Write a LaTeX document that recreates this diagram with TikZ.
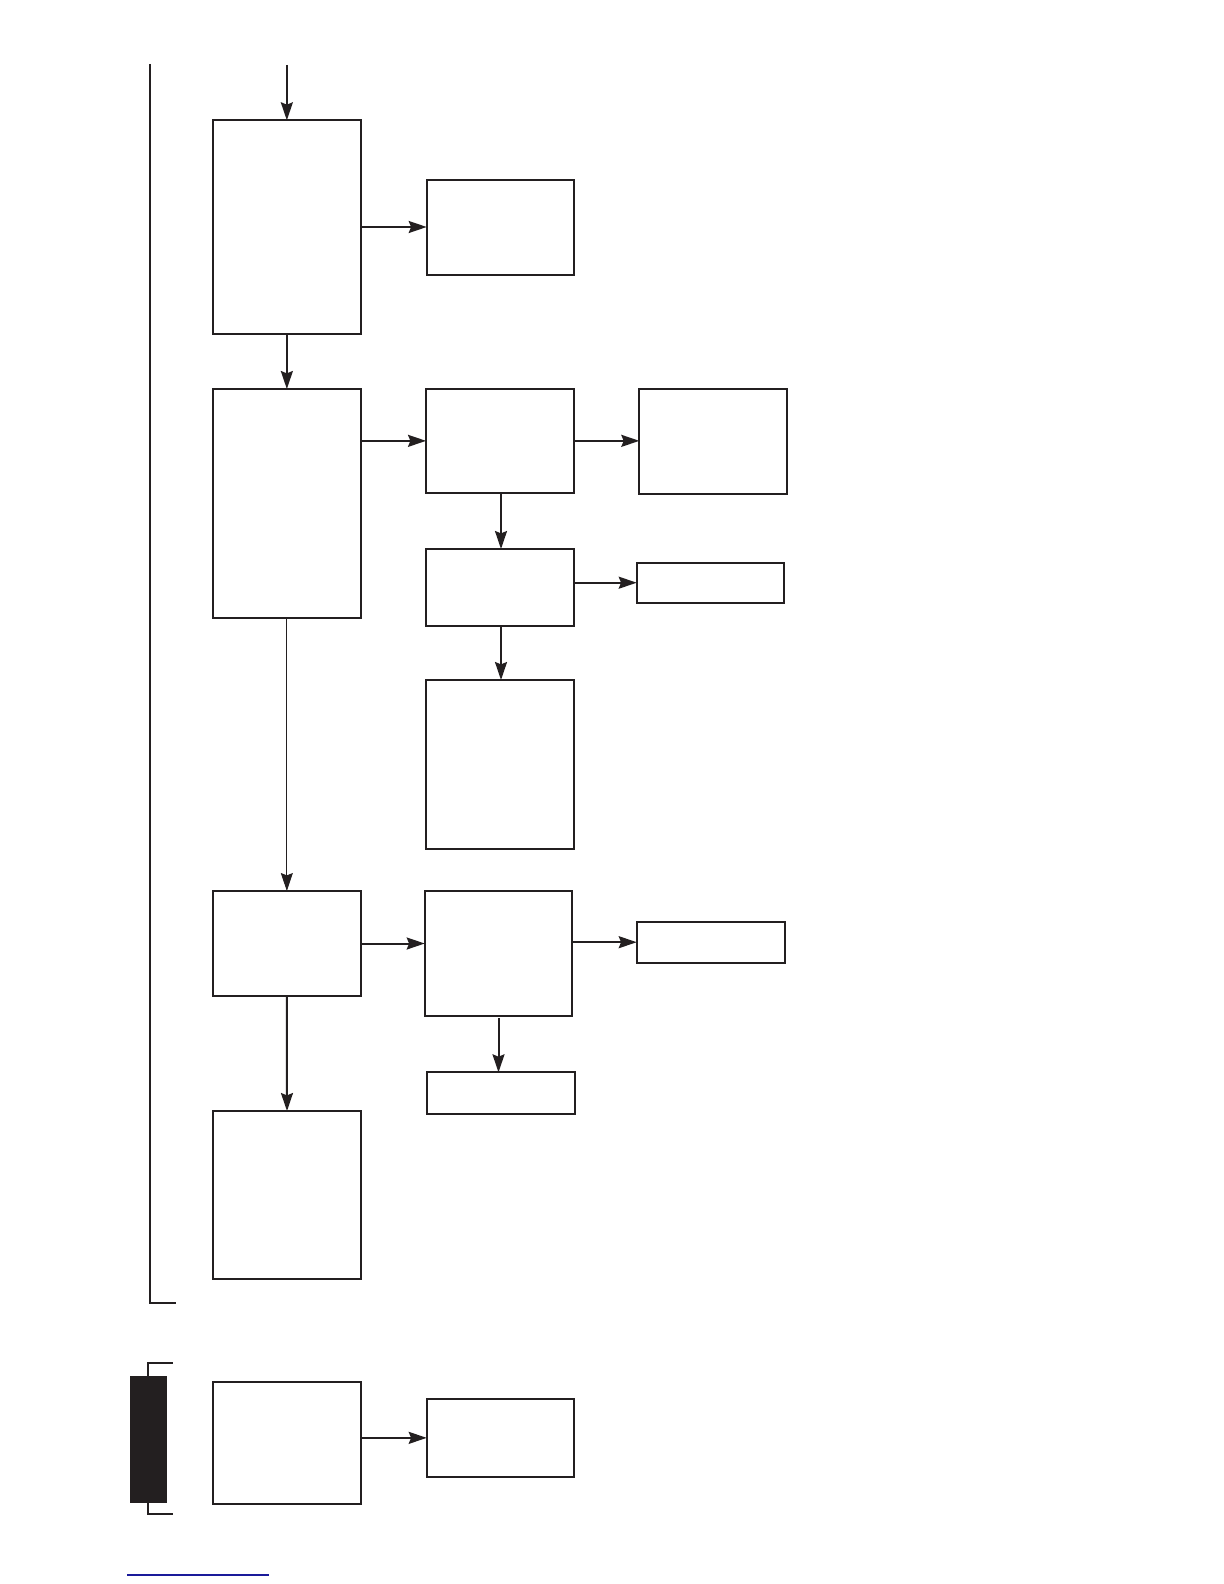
\documentclass[tikz,border=0pt]{standalone}
\usetikzlibrary{arrows.meta}
\definecolor{ink}{HTML}{231F20}
\definecolor{linkblue}{HTML}{1A1A9A}
\begin{document}
\begin{tikzpicture}[x=0.5pt,y=-0.5pt,
  box/.style={draw=ink,line width=1pt,inner sep=0pt,outer sep=0pt,rectangle},
  conn/.style={draw=ink,line width=1pt,-{Stealth[length=9pt,width=6pt,inset=1.2pt]}},
  thinconn/.style={draw=ink,line width=0.45pt,-{Stealth[length=9pt,width=6pt,inset=1.2pt]}},
  frame/.style={draw=ink,line width=0.8pt}]
\useasboundingbox (0,0) rectangle (1224,1584);
% boxes
\node[box,minimum width=74.15pt,minimum height=106.7pt] (b1) at (286.85,227) {};
\node[box,minimum width=73.65pt,minimum height=47.35pt] (r1) at (500.35,227.35) {};
\node[box,minimum width=74.15pt,minimum height=114.35pt] (b2) at (286.85,503.35) {};
\node[box,minimum width=74pt,minimum height=51.85pt] (a) at (500,440.85) {};
\node[box,minimum width=74pt,minimum height=52.5pt] (b) at (713.3,441.5) {};
\node[box,minimum width=74pt,minimum height=38.5pt] (c) at (500,587.5) {};
\node[box,minimum width=73.8pt,minimum height=20pt] (d) at (710.5,582.7) {};
\node[box,minimum width=74pt,minimum height=84.35pt] (h) at (500,764.35) {};
\node[box,minimum width=74.15pt,minimum height=52.5pt] (b3) at (286.85,943.5) {};
\node[box,minimum width=73.8pt,minimum height=62.5pt] (e) at (498.5,953.2) {};
\node[box,minimum width=74.3pt,minimum height=20.5pt] (f) at (711,942.2) {};
\node[box,minimum width=74pt,minimum height=21pt] (g) at (501.3,1093.3) {};
\node[box,minimum width=74.3pt,minimum height=84pt] (b4) at (287,1195) {};
\node[box,minimum width=74.15pt,minimum height=61pt] (b5) at (286.85,1443) {};
\node[box,minimum width=73.65pt,minimum height=38.85pt] (r5) at (500.35,1437.85) {};
% free ends
\coordinate (top) at (286.85,65);
\coordinate (lt) at (149.7,64);
\coordinate (lb) at (149.7,1302.7);
\coordinate (lr) at (175.7,1302.7);
% left frame line
\draw[frame] (lt) -- (lb) -- (lr);
% connectors
\draw[conn] (top) -- (b1.north);
\draw[conn] (b1.east) -- (b1.east -| r1.west);
\draw[conn] (b1.south) -- (b2.north);
\draw[conn] (b2.east |- a.west) -- (a.west);
\draw[conn] (a.east) -- (a.east -| b.west);
\draw[conn] ([xshift=0.5pt]a.south) -- ([xshift=0.5pt]c.north);
\draw[conn] (c.east |- d.west) -- (d.west);
\draw[conn] ([xshift=0.5pt]c.south) -- ([xshift=0.5pt]h.north);
\draw[thinconn] (b2.south) -- (b3.north);
\draw[conn] (b3.east) -- (b3.east -| e.west);
\draw[conn] (e.east |- f.west) -- (f.west);
\draw[conn] ([yshift=-1.3pt]e.south) -- (e.south |- g.north);
\draw[conn] (b3.south) -- (b4.north);
\draw[conn] (b5.east |- r5.west) -- (r5.west);
% black tab with bracket
\coordinate (kt1) at (172.7,1363);
\coordinate (kt2) at (147.7,1363);
\coordinate (kb2) at (147.7,1514);
\coordinate (kb1) at (172.7,1514);
\draw[draw=ink,line width=1pt] (kt1) -- (kt2) -- (kb2) -- (kb1);
\fill[ink] (130,1376) rectangle (167,1502.7);
% link underline
\draw[linkblue,line width=0.6pt] (127,1575) -- (269,1575);
\end{tikzpicture}
\end{document}
